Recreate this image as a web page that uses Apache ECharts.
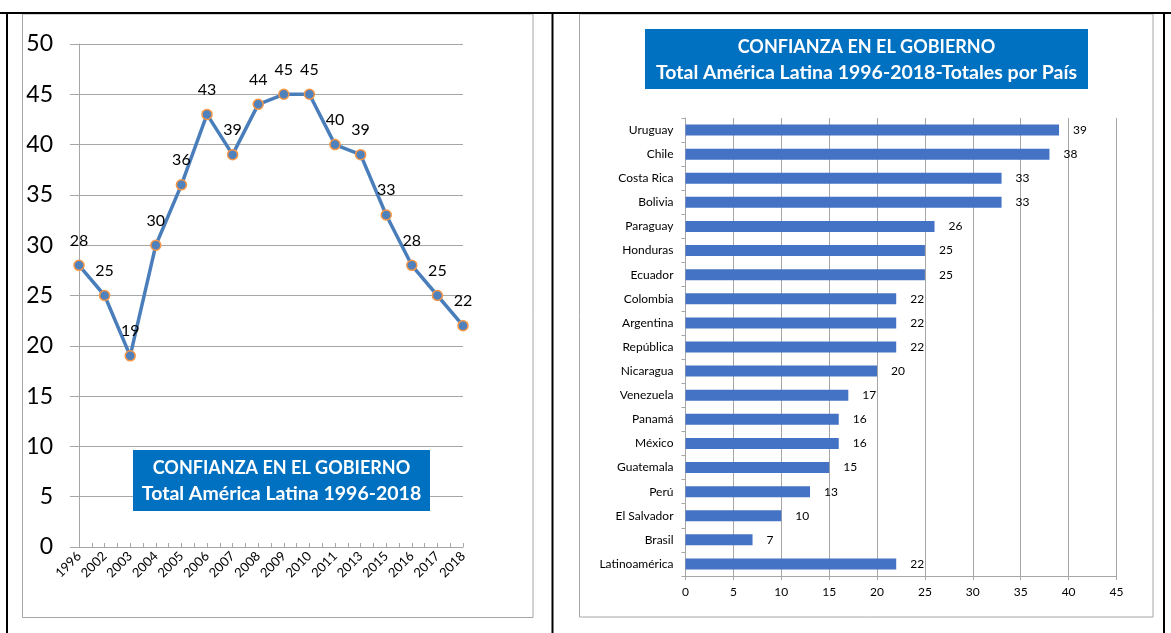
<!DOCTYPE html>
<html>
<head>
<meta charset="utf-8">
<script src="https://cdn.jsdelivr.net/npm/echarts@6/dist/echarts.min.js"></script>
<style>
html,body{margin:0;padding:0;background:#fff;}
#c{width:1171px;height:633px;}
</style>
</head>
<body>
<div id="c"></div>
<script>
// Left chart data
const years = ['1996','2002','2003','2004','2005','2006','2007','2008','2009','2010','2011','2013','2015','2016','2017','2018'];
const trustByYear = [28,25,19,30,36,43,39,44,45,45,40,39,33,28,25,22];
const yTicksLeft = {min:0, max:50, interval:5};

// Right chart data
const countries = ['Uruguay','Chile','Costa Rica','Bolivia','Paraguay','Honduras','Ecuador','Colombia','Argentina','República','Nicaragua','Venezuela','Panamá','México','Guatemala','Perú','El Salvador','Brasil','Latinoamérica'];
const trustByCountry = [39,38,33,33,26,25,25,22,22,22,20,17,16,16,15,13,10,7,22];
const xTicksRight = {min:0, max:45, interval:5};

const leftTitle = ['CONFIANZA EN EL GOBIERNO','Total América Latina 1996-2018'];
const rightTitle = ['CONFIANZA EN EL GOBIERNO','Total América Latina 1996-2018-Totales por País'];

// half-step tick positions for the year axis (marks only, no labels)
const halfTicks = [];
years.forEach((y, i) => { halfTicks.push(''); if (i < years.length - 1) halfTicks.push(''); });

const FONT = 'Lato';
const gridGray = '#a6a6a6';
const chart = echarts.init(document.getElementById('c'));

chart.setOption({
  backgroundColor:'#fff',
  animation:false,
  textStyle:{fontFamily:FONT},
  grid:[
    {left:79, right:708, top:44, bottom:86, containLabel:false},
    {left:685.5, right:54.5, top:118, bottom:57, containLabel:false}
  ],
  xAxis:[
    {gridIndex:0, type:'category', data:years, boundaryGap:false, position:'bottom',
     axisLine:{lineStyle:{color:gridGray}},
     axisTick:{show:false},
     axisLabel:{rotate:45, fontSize:13, color:'#000', margin:7, fontFamily:FONT, interval:0},
     splitLine:{show:false}},
    {gridIndex:1, type:'value', min:xTicksRight.min, max:xTicksRight.max, interval:xTicksRight.interval,
     axisLine:{show:true, lineStyle:{color:gridGray}},
     axisTick:{show:true, length:4, lineStyle:{color:gridGray}},
     axisLabel:{fontSize:12, color:'#000', margin:10, fontFamily:FONT},
     splitLine:{show:true, lineStyle:{color:gridGray}}},
    {gridIndex:0, type:'category', data:halfTicks, boundaryGap:false, position:'bottom',
     axisLine:{show:false},
     axisTick:{show:true, inside:true, length:4, interval:0, lineStyle:{color:gridGray}},
     axisLabel:{show:false},
     splitLine:{show:false}}
  ],
  yAxis:[
    {gridIndex:0, type:'value', min:yTicksLeft.min, max:yTicksLeft.max, interval:yTicksLeft.interval,
     axisLine:{show:true, lineStyle:{color:gridGray}},
     axisTick:{show:true, length:9, lineStyle:{color:gridGray}},
     axisLabel:{fontSize:23, color:'#000', margin:26, fontFamily:FONT},
     splitLine:{show:true, lineStyle:{color:gridGray, width:1.2}}},
    {gridIndex:1, type:'category', data:countries, inverse:true,
     axisLine:{show:true, lineStyle:{color:gridGray}},
     axisTick:{show:true, length:4, lineStyle:{color:gridGray}},
     axisLabel:{fontSize:12, color:'#000', margin:12, fontFamily:FONT, interval:0},
     splitLine:{show:false}}
  ],
  series:[
    {type:'line', xAxisIndex:0, yAxisIndex:0, data:trustByYear,
     lineStyle:{color:'#4a7ebb', width:3.5},
     symbol:'circle', symbolSize:10,
     itemStyle:{color:'#4f81bd', borderColor:'#f79646', borderWidth:1.5},
     label:{show:true, position:'top', distance:11, fontSize:16, color:'#000', fontFamily:FONT},
     z:3},
    {type:'bar', xAxisIndex:1, yAxisIndex:1, data:trustByCountry,
     barWidth:11,
     itemStyle:{color:'#4472c4'},
     label:{show:true, position:'right', distance:14, fontSize:12, color:'#000', fontFamily:FONT}}
  ],
  graphic:[
    // table borders
    {type:'line', shape:{x1:0, y1:13, x2:1171, y2:13}, style:{stroke:'#000', lineWidth:2}, z:100},
    {type:'line', shape:{x1:7, y1:12, x2:7, y2:633}, style:{stroke:'#000', lineWidth:2}, z:100},
    {type:'line', shape:{x1:552.5, y1:12, x2:552.5, y2:633}, style:{stroke:'#000', lineWidth:2}, z:100},
    {type:'line', shape:{x1:1164, y1:12, x2:1164, y2:633}, style:{stroke:'#000', lineWidth:2}, z:100},
    // chart frames
    {type:'rect', shape:{x:22.5, y:14, width:510.5, height:603.5}, style:{fill:'none', stroke:gridGray, lineWidth:1}, z:90},
    {type:'rect', shape:{x:579.5, y:14, width:573.5, height:603}, style:{fill:'none', stroke:gridGray, lineWidth:1}, z:90},
    // left title box
    {type:'rect', shape:{x:133, y:450, width:297, height:61}, style:{fill:'#0070c0'}, z:50},
    {type:'text', x:281.5, y:468, style:{text:leftTitle[0], fill:'#fff', font:'bold 18px '+FONT, align:'center', verticalAlign:'middle'}, z:51},
    {type:'text', x:281.5, y:494, style:{text:leftTitle[1], fill:'#fff', font:'bold 19.5px '+FONT, align:'center', verticalAlign:'middle'}, z:51},
    // right title box
    {type:'rect', shape:{x:645, y:29, width:443, height:60}, style:{fill:'#0070c0'}, z:50},
    {type:'text', x:866.5, y:47, style:{text:rightTitle[0], fill:'#fff', font:'bold 18px '+FONT, align:'center', verticalAlign:'middle'}, z:51},
    {type:'text', x:866.5, y:73, style:{text:rightTitle[1], fill:'#fff', font:'bold 19.5px '+FONT, align:'center', verticalAlign:'middle'}, z:51}
  ]
});
</script>
</body>
</html>
